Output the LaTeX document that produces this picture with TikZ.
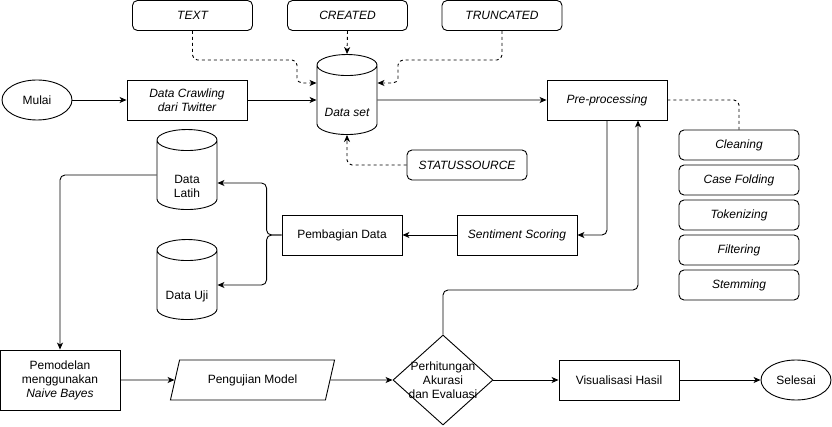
\documentclass[tikz,border=0pt]{standalone}
\usepackage{fontspec}
\setmainfont{Liberation Sans}
\usetikzlibrary{shapes.geometric,arrows.meta}

\tikzset{
  huruf/.style={font=\fontsize{12}{14}\selectfont},
  miring/.style={font=\fontsize{12}{14}\selectfont\itshape},
  proses/.style={draw, rectangle, minimum width=120pt, minimum height=40pt, inner sep=0pt, align=center},
  atribut/.style={draw, rectangle, rounded corners=5pt, minimum width=120pt, minimum height=30pt, inner sep=0pt, miring},
  terminal/.style={draw, ellipse, minimum width=70pt, minimum height=40pt, inner sep=0pt},
  basisdata/.style={draw, cylinder, shape border rotate=90, aspect=0.47, minimum width=60pt, minimum height=80pt, inner sep=0pt},
  keputusan/.style={draw, diamond, minimum width=100pt, minimum height=90pt, inner sep=0pt, aspect=1.1},
  masukan/.style={draw, trapezium, trapezium left angle=63.4, trapezium right angle=116.6, trapezium stretches=true, minimum width=165pt, minimum height=40pt, inner sep=0pt},
  panah/.style={-{Stealth[length=7pt,width=6pt,inset=2pt]}, rounded corners=5pt},
  putus/.style={dash pattern=on 3pt off 3pt, rounded corners=5pt}
}

\begin{document}
\begin{tikzpicture}[x=1pt, y=-1pt, line width=0.9pt, huruf]
\useasboundingbox (0,0) rectangle (832,427);

% baris atas
\node[terminal] (mulai) at (37,100) {Mulai};
\node[proses, miring] (crawling) at (187,100) {Data Crawling\\dari Twitter};
\node[basisdata] (dataset) at (347,100) {\phantom{Data set}};
\node[miring] (datasetteks) at ([yshift=-12pt]dataset.center) {Data set};
\node[proses, miring] (preproc) at (607,100) {Pre-processing};

\node[atribut] (teks) at (192.5,15.5) {TEXT};
\node[atribut] (dibuat) at (347.5,15.5) {CREATED};
\node[atribut] (potong) at (502,15.5) {TRUNCATED};
\node[atribut] (sumber) at (467,165) {STATUSSOURCE};

% tahapan pre-processing
\node[atribut] (cleaning) at (739,145) {Cleaning};
\node[atribut] (casefold) at (739,180) {Case Folding};
\node[atribut] (token) at (739,215) {Tokenizing};
\node[atribut] (filter) at (739,250) {Filtering};
\node[atribut] (stem) at (739,285) {Stemming};

% baris tengah
\node[proses, miring] (sentimen) at (517,235) {Sentiment Scoring};
\node[proses] (pembagian) at (342,235) {Pembagian Data};
\node[basisdata] (latih) at (187,175) {\phantom{Data set}};
\node[align=center, inner sep=0pt] (latihteks) at ([yshift=-11pt]latih.center) {Data\\Latih};
\node[basisdata] (uji) at (187,285) {\phantom{Data set}};
\node (ujiteks) at ([yshift=-11pt]uji.center) {Data Uji};

% baris bawah
\node[proses, minimum height=60pt] (pemodelan) at (60,380) {Pemodelan\\menggunakan\\\textit{Naive Bayes}};
\node[masukan] (pengujian) at (252.5,380) {Pengujian Model};
\node[keputusan] (hitung) at (443,380) {};
\node[align=center, inner sep=0pt] (hitungteks) at (hitung) {Perhitungan\\Akurasi\\dan Evaluasi};
\node[proses] (visual) at (619,380) {Visualisasi Hasil};
\node[terminal] (selesai) at (796,380) {Selesai};

% atribut ke data set
\draw[putus, -{Stealth[length=7pt,width=6pt,inset=2pt]}] (teks.south) |- (297,60) |- ([yshift=17pt]dataset.180);
\draw[putus, -{Stealth[length=7pt,width=6pt,inset=2pt]}] (dibuat.south) -- (dataset.north);
\draw[putus, -{Stealth[length=7pt,width=6pt,inset=2pt]}] (potong.south) |- (398,60) |- ([yshift=17pt]dataset.0);
\draw[putus, -{Stealth[length=7pt,width=6pt,inset=2pt]}] (sumber.west) -| (dataset.south);
\draw[putus] (preproc.east) -| (cleaning.north);

% alur utama
\draw[panah] (mulai) -- (crawling);
\draw[panah] (crawling) -- (dataset);
\draw[panah] (dataset) -- (preproc);
\draw[panah] (preproc.south) |- (sentimen.east);
\draw[panah] (sentimen) -- (pembagian);
\draw[panah] (pembagian.west) -- ++(-15,0) |- ([yshift=-8pt]latih.east);
\draw[panah] (pembagian.west) -- ++(-15,0) |- (uji.east);
\draw[panah] (latih.west) -| (pemodelan.north);
\draw[panah] (pemodelan) -- (pengujian);
\draw[panah] (pengujian) -- (hitung);
\draw[panah] (hitung) -- (visual);
\draw[panah] (visual) -- (selesai);
\coordinate (balik) at (638,290);
\draw[panah] (hitung.north) |- (balik) -- ([xshift=31pt]preproc.south);
\end{tikzpicture}
\end{document}
